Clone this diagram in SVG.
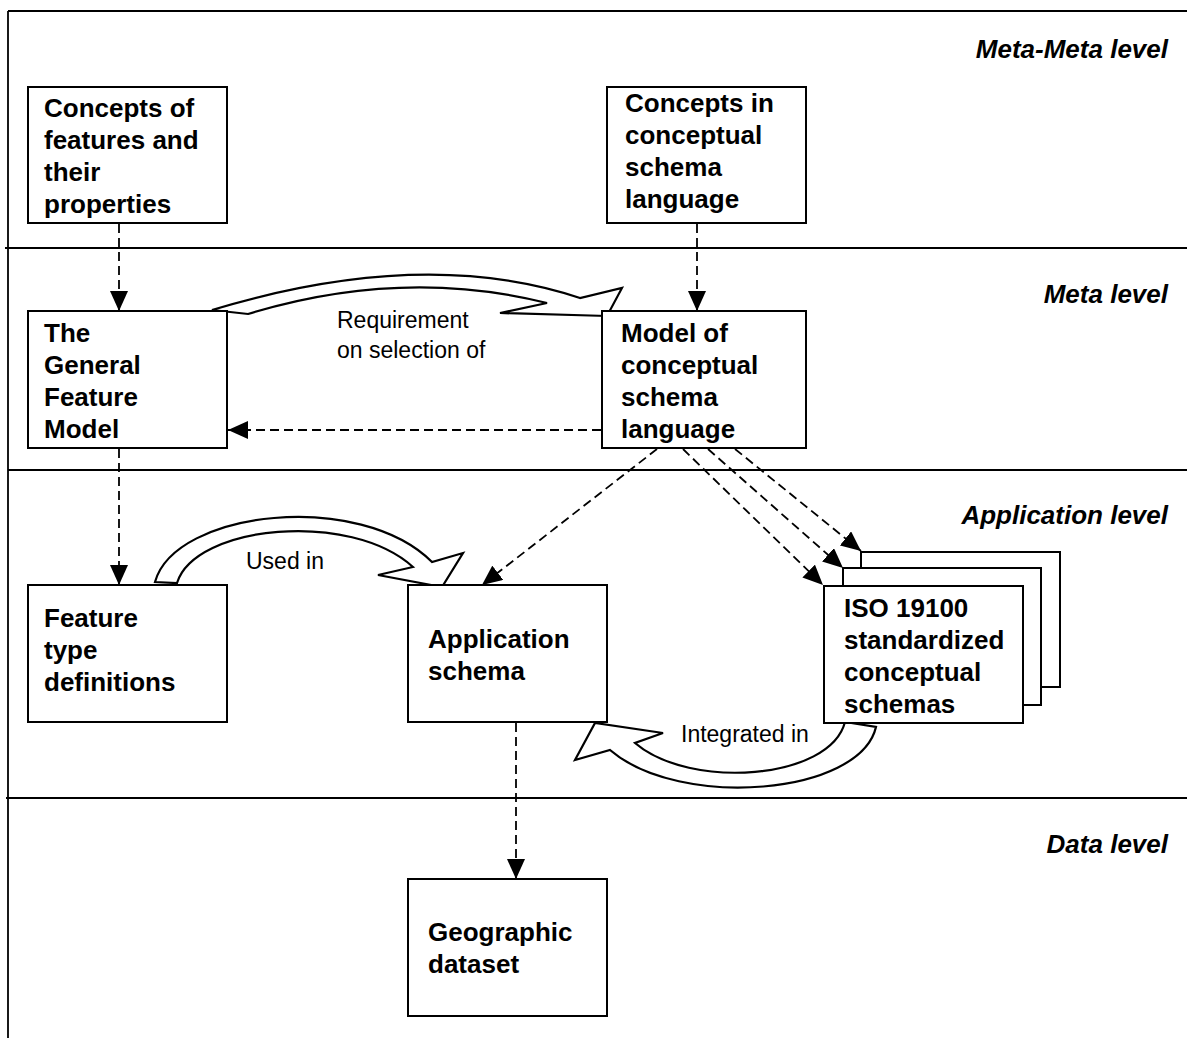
<svg xmlns="http://www.w3.org/2000/svg" width="1187" height="1038" viewBox="0 0 1187 1038">
<defs>
<style>
.frame{stroke:#000;stroke-width:1.8;fill:none}
.box{fill:#fff;stroke:#000;stroke-width:2}
.bt{font-family:"Liberation Sans",Arial,sans-serif;font-weight:bold;font-size:26px;fill:#000}
.lvl{font-family:"Liberation Sans",Arial,sans-serif;font-weight:bold;font-style:italic;font-size:26px;fill:#000;text-anchor:end}
.lbl{font-family:"Liberation Sans",Arial,sans-serif;font-size:23px;fill:#000}
.dash{stroke:#000;stroke-width:1.8;stroke-dasharray:9 5;fill:none;marker-end:url(#ah)}
.block{fill:#fff;stroke:#000;stroke-width:2.2;stroke-linejoin:miter}
</style>
<marker id="ah" markerUnits="userSpaceOnUse" markerWidth="20" markerHeight="18" refX="20" refY="9" orient="auto" viewBox="0 0 20 18">
<path d="M0,0 L20,9 L0,18 z" fill="#000"/>
</marker>
</defs>
<rect width="1187" height="1038" fill="#fff"/>
<g id="frame">
<line class="frame" x1="8" y1="11" x2="8" y2="1038"/>
<line class="frame" x1="8" y1="11" x2="1187" y2="11"/>
<line class="frame" x1="5" y1="248" x2="1187" y2="248"/>
<line class="frame" x1="8" y1="470" x2="1187" y2="470"/>
<line class="frame" x1="6" y1="798" x2="1187" y2="798"/>
</g>
<g id="levels">
<text class="lvl" x="1168" y="58">Meta-Meta level</text>
<text class="lvl" x="1168" y="303">Meta level</text>
<text class="lvl" x="1168" y="524">Application level</text>
<text class="lvl" x="1168" y="853">Data level</text>
</g>
<g id="connectors">
<line class="dash" x1="119" y1="224" x2="119" y2="311"/>
<line class="dash" x1="697" y1="224" x2="697" y2="311"/>
<line class="dash" x1="601" y1="430" x2="228" y2="430"/>
<line class="dash" x1="119" y1="449" x2="119" y2="585"/>
<line class="dash" x1="657" y1="449" x2="482" y2="585"/>
<line class="dash" x1="683" y1="449" x2="823" y2="585"/>
<line class="dash" x1="708" y1="449" x2="843" y2="568"/>
<line class="dash" x1="735" y1="449" x2="861" y2="551"/>
<line class="dash" x1="516" y1="723" x2="516" y2="879"/>
<path id="arrow-requirement" class="block" d="M212,310 Q424,246 580,298 L622,288 L607,316 L500,313 L547,303 Q402,267 248,314 Z"/>
<path id="arrow-usedin" class="block" d="M155,582 C175,510 360,490 432,562 L463,553 L442,587 L378,575 L413,567 C350,510 195,525 177,583 Z"/>
<path id="arrow-integrated" class="block" d="M876,727 C860,795 680,810 610,750 L575,760 L595,723 L663,733 L635,743 C690,790 830,780 845,722 Z"/>
<text class="lbl" x="337" y="328">Requirement</text>
<text class="lbl" x="337" y="358">on selection of</text>
<text class="lbl" x="246" y="569">Used in</text>
<text class="lbl" x="681" y="742">Integrated in</text>
</g>
<g id="concepts-features">
<rect class="box" x="28" y="87" width="199" height="136"/>
<text class="bt" x="44" y="117">Concepts of</text>
<text class="bt" x="44" y="149">features and</text>
<text class="bt" x="44" y="181">their</text>
<text class="bt" x="44" y="213">properties</text>
</g>
<g id="concepts-csl">
<rect class="box" x="607" y="87" width="199" height="136"/>
<text class="bt" x="625" y="112">Concepts in</text>
<text class="bt" x="625" y="144">conceptual</text>
<text class="bt" x="625" y="176">schema</text>
<text class="bt" x="625" y="208">language</text>
</g>
<g id="general-feature-model">
<rect class="box" x="28" y="311" width="199" height="137"/>
<text class="bt" x="44" y="342">The</text>
<text class="bt" x="44" y="374">General</text>
<text class="bt" x="44" y="406">Feature</text>
<text class="bt" x="44" y="438">Model</text>
</g>
<g id="model-csl">
<rect class="box" x="602" y="311" width="204" height="137"/>
<text class="bt" x="621" y="342">Model of</text>
<text class="bt" x="621" y="374">conceptual</text>
<text class="bt" x="621" y="406">schema</text>
<text class="bt" x="621" y="438">language</text>
</g>
<g id="feature-type-definitions">
<rect class="box" x="28" y="585" width="199" height="137"/>
<text class="bt" x="44" y="627">Feature</text>
<text class="bt" x="44" y="659">type</text>
<text class="bt" x="44" y="691">definitions</text>
</g>
<g id="application-schema">
<rect class="box" x="408" y="585" width="199" height="137"/>
<text class="bt" x="428" y="648">Application</text>
<text class="bt" x="428" y="680">schema</text>
</g>
<g id="iso-schemas">
<rect class="box" x="861" y="552" width="199" height="135"/>
<rect class="box" x="843" y="568" width="198" height="137"/>
<rect class="box" x="824" y="586" width="199" height="137"/>
<text class="bt" x="844" y="617">ISO 19100</text>
<text class="bt" x="844" y="649">standardized</text>
<text class="bt" x="844" y="681">conceptual</text>
<text class="bt" x="844" y="713">schemas</text>
</g>
<g id="geographic-dataset">
<rect class="box" x="408" y="879" width="199" height="137"/>
<text class="bt" x="428" y="941">Geographic</text>
<text class="bt" x="428" y="973">dataset</text>
</g>
</svg>
